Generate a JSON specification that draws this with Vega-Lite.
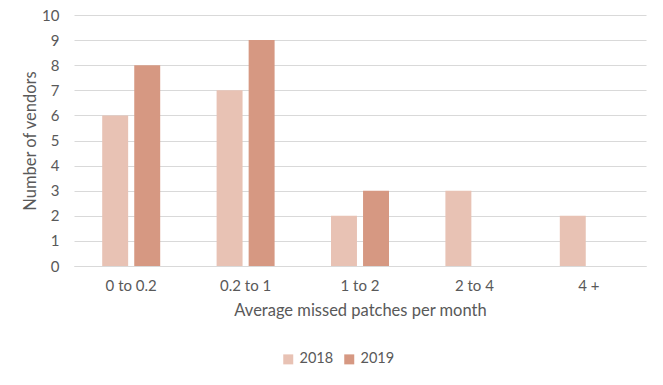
{
  "$schema": "https://vega.github.io/schema/vega-lite/v6.json",
  "autosize": "none",
  "width": 572,
  "height": 251,
  "padding": {"left": 74, "top": 15, "right": 17, "bottom": 119},
  "background": "white",
  "config": {
    "font": "Lato",
    "view": {"stroke": null},
    "axis": {"labelColor": "#595959", "titleColor": "#595959", "labelFont": "Lato", "titleFont": "Lato", "titleFontWeight": "normal"},
    "legend": {"labelColor": "#595959", "labelFont": "Lato"}
  },
  "data": {
    "values": [
      {"range": "0 to 0.2", "year": "2018", "vendors": 6},
      {"range": "0 to 0.2", "year": "2019", "vendors": 8},
      {"range": "0.2 to 1", "year": "2018", "vendors": 7},
      {"range": "0.2 to 1", "year": "2019", "vendors": 9},
      {"range": "1 to 2", "year": "2018", "vendors": 2},
      {"range": "1 to 2", "year": "2019", "vendors": 3},
      {"range": "2 to 4", "year": "2018", "vendors": 3},
      {"range": "4 +", "year": "2018", "vendors": 2}
    ]
  },
  "mark": {"type": "bar"},
  "encoding": {
    "x": {
      "field": "range", "type": "nominal",
      "sort": ["0 to 0.2", "0.2 to 1", "1 to 2", "2 to 4", "4 +"],
      "scale": {"paddingInner": 0, "paddingOuter": 0},
      "axis": {
        "title": "Average missed patches per month",
        "labelAngle": 0, "labelFontSize": 15, "titleFontSize": 16.5,
        "labelPadding": 12, "titlePadding": 9,
        "ticks": false, "domainColor": "#d9d9d9", "domainWidth": 1
      }
    },
    "xOffset": {
      "field": "year", "type": "nominal",
      "scale": {"domain": ["2018", "2019"], "paddingInner": 0.19, "paddingOuter": 0.88}
    },
    "y": {
      "field": "vendors", "type": "quantitative",
      "scale": {"domain": [0, 10], "nice": false},
      "axis": {
        "title": "Number of vendors",
        "values": [0, 1, 2, 3, 4, 5, 6, 7, 8, 9, 10],
        "labelFontSize": 15, "titleFontSize": 16.5,
        "labelPadding": 15, "titlePadding": 3,
        "ticks": false, "domain": false,
        "gridColor": "#d9d9d9", "gridWidth": 1
      }
    },
    "color": {
      "field": "year", "type": "nominal",
      "scale": {"domain": ["2018", "2019"], "range": ["#E8C2B4", "#D69882"]},
      "legend": {
        "title": null, "orient": "none", "direction": "horizontal",
        "legendX": 207, "legendY": 337,
        "symbolType": "square", "symbolSize": 100, "symbolStrokeWidth": 0,
        "labelFontSize": 14.5, "columnPadding": 8, "labelOffset": 4
      }
    }
  }
}
